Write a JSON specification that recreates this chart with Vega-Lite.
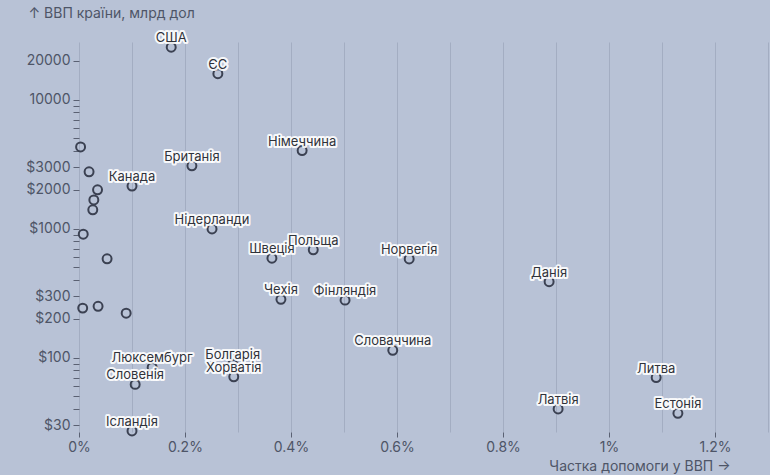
{
  "$schema": "https://vega.github.io/schema/vega-lite/v6.json",
  "width": 689,
  "height": 390,
  "autosize": {"type": "none"},
  "padding": {"left": 79, "top": 42, "right": 2, "bottom": 43},
  "background": "#b8c2d6",
  "config": {
    "view": {"stroke": null},
    "font": "Inter",
    "axis": {"labelFont": "Inter", "titleFont": "Inter"}
  },
  "data": {
    "values": [
      {"country": "США", "share": 0.174, "gdp": 25500},
      {"country": "ЄС", "share": 0.262, "gdp": 15900},
      {"country": "", "share": 0.003, "gdp": 4300},
      {"country": "Німеччина", "share": 0.421, "gdp": 4030},
      {"country": "Британія", "share": 0.213, "gdp": 3070},
      {"country": "", "share": 0.019, "gdp": 2760},
      {"country": "Канада", "share": 0.1, "gdp": 2140},
      {"country": "", "share": 0.035, "gdp": 2000},
      {"country": "", "share": 0.028, "gdp": 1670},
      {"country": "", "share": 0.026, "gdp": 1400},
      {"country": "", "share": 0.008, "gdp": 905},
      {"country": "Нідерланди", "share": 0.251, "gdp": 995},
      {"country": "", "share": 0.053, "gdp": 584},
      {"country": "Швеція", "share": 0.364, "gdp": 590},
      {"country": "Польща", "share": 0.442, "gdp": 685},
      {"country": "Норвегія", "share": 0.623, "gdp": 582},
      {"country": "Данія", "share": 0.887, "gdp": 388},
      {"country": "Чехія", "share": 0.381, "gdp": 283},
      {"country": "Фінляндія", "share": 0.502, "gdp": 279},
      {"country": "", "share": 0.007, "gdp": 242},
      {"country": "", "share": 0.036, "gdp": 250},
      {"country": "", "share": 0.089, "gdp": 221},
      {"country": "Словаччина", "share": 0.592, "gdp": 114},
      {"country": "Люксембург", "share": 0.138, "gdp": 84},
      {"country": "Болгарія", "share": 0.29, "gdp": 89},
      {"country": "Хорватія", "share": 0.292, "gdp": 71},
      {"country": "Словенія", "share": 0.106, "gdp": 62},
      {"country": "Ісландія", "share": 0.1, "gdp": 27},
      {"country": "Литва", "share": 1.089, "gdp": 70},
      {"country": "Латвія", "share": 0.904, "gdp": 40},
      {"country": "Естонія", "share": 1.13, "gdp": 37}
    ]
  },
  "resolve": {"axis": {"x": "independent"}},
  "layer": [
    {
      "mark": {"type": "point", "filled": false, "size": 80, "stroke": "#3b4152", "strokeWidth": 2, "opacity": 1},
      "encoding": {
        "x": {
          "field": "share", "type": "quantitative",
          "scale": {"domain": [0, 1.3], "nice": false, "zero": false},
          "axis": {
            "orient": "top", "values": [0, 0.1, 0.2, 0.3, 0.4, 0.5, 0.6, 0.7, 0.8, 0.9, 1, 1.1, 1.2, 1.3],
            "grid": true, "gridColor": "#a3adc2", "gridWidth": 1, "gridOpacity": 1,
            "labels": false, "ticks": false, "domain": false, "title": null
          }
        },
        "y": {
          "field": "gdp", "type": "quantitative",
          "scale": {"type": "log", "domain": [26.5, 28000], "nice": false, "zero": false},
          "axis": {
            "values": [30, 40, 50, 60, 70, 80, 90, 100, 200, 300, 400, 500, 600, 700, 800, 900, 1000, 2000, 3000, 4000, 5000, 6000, 7000, 8000, 9000, 10000, 20000],
            "labelExpr": "indexof([30,100,200,300,1000,2000,3000,10000,20000], datum.value) >= 0 ? (datum.value >= 10000 ? '' + datum.value : '$' + datum.value) : ''",
            "labelOverlap": false, "labelFontSize": 14, "labelColor": "#4e5567",
            "labelPadding": 3, "tickSize": 6, "tickColor": "#5a6173", "tickWidth": 1,
            "grid": false, "domain": false,
            "title": "↑ ВВП країни, млрд дол", "titleAngle": 0, "titleX": -51, "titleY": -29,
            "titleAlign": "left", "titleBaseline": "middle", "titleFontSize": 14,
            "titleFontWeight": "normal", "titleColor": "#4e5567"
          }
        }
      }
    },
    {
      "mark": {"type": "text", "font": "Inter", "fontSize": 13, "dy": -9, "baseline": "middle", "stroke": "#ffffff", "strokeWidth": 4, "strokeJoin": "round", "strokeOpacity": 0.9, "fill": "#ffffff"},
      "encoding": {
        "x": {
          "field": "share", "type": "quantitative",
          "axis": {
            "orient": "bottom", "values": [0, 0.2, 0.4, 0.6, 0.8, 1, 1.2],
            "labelExpr": "datum.value + '%'",
            "labelFontSize": 14, "labelColor": "#4e5567", "labelFlush": false, "labelOverlap": false,
            "labelPadding": 3, "tickSize": 5, "tickColor": "#5a6173",
            "grid": false, "domain": false,
            "title": "Частка допомоги у ВВП →", "titleX": 651, "titleY": 34,
            "titleAlign": "right", "titleBaseline": "middle", "titleFontSize": 14,
            "titleFontWeight": "normal", "titleColor": "#4e5567"
          }
        },
        "y": {"field": "gdp", "type": "quantitative"},
        "text": {"field": "country"}
      }
    },
    {
      "mark": {"type": "text", "font": "Inter", "fontSize": 13, "dy": -9, "baseline": "middle", "fill": "#2f323a"},
      "encoding": {
        "x": {"field": "share", "type": "quantitative", "axis": null},
        "y": {"field": "gdp", "type": "quantitative"},
        "text": {"field": "country"}
      }
    }
  ]
}
